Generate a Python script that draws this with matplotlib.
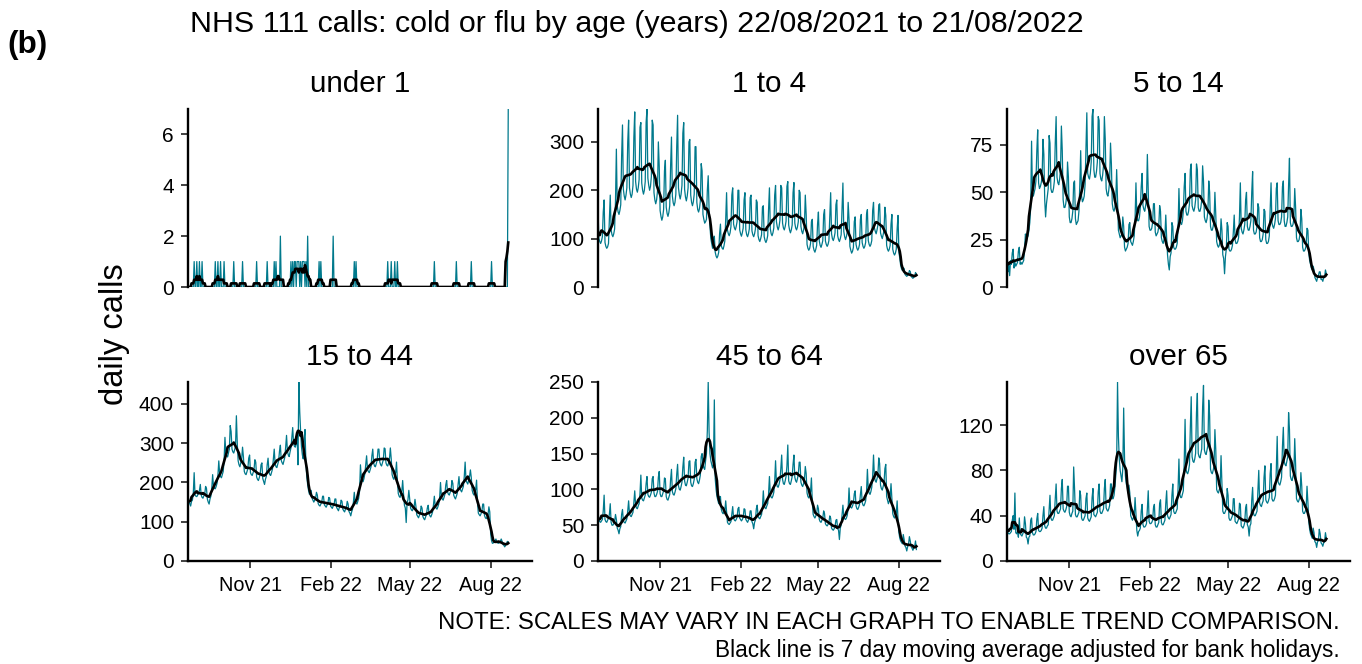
import numpy as np
import pandas as pd
import matplotlib
matplotlib.use('Agg')
import matplotlib.pyplot as plt
import matplotlib.dates as mdates

plt.rcParams['font.family'] = ['Liberation Sans', 'DejaVu Sans']

# daily calls, one row per week (Sun..Sat), first day 22/08/2021
start_date = '2021-08-22'
n_days = 365

# under 1: almost all zero, only the non-zero days are listed
under1_days = [7, 10, 13, 16, 31, 34, 37, 41, 52, 62, 78, 90, 98, 100, 105,
               117, 119, 121, 122, 124, 125, 126, 128, 130, 131, 132, 134, 136,
               149, 151, 165, 189, 191, 227, 231, 235, 238, 280, 305, 322, 345, 364]
under1_counts = [1, 1, 1, 1, 1, 1, 1, 1, 1, 1, 1, 1, 1, 1, 2,
                 1, 1, 1, 1, 1, 1, 1, 1, 1, 1, 1, 1, 2,
                 1, 1, 2, 1, 1, 1, 1, 1, 1, 1, 1, 1, 1, 7]

calls_1to4 = [
    [160, 100, 94, 90, 95, 104, 155], [180, 92, 84, 80, 83, 90, 140],
    [190, 118, 108, 104, 110, 120, 178], [285, 168, 155, 150, 158, 170, 270],
    [335, 202, 188, 180, 190, 205, 300], [345, 205, 192, 185, 192, 210, 310],
    [362, 218, 202, 196, 205, 222, 330], [340, 215, 200, 192, 200, 218, 340],
    [368, 225, 210, 200, 208, 228, 345], [335, 195, 180, 172, 180, 198, 300],
    [250, 158, 146, 138, 145, 160, 240], [262, 165, 152, 146, 154, 168, 250],
    [310, 188, 174, 168, 175, 192, 290], [355, 205, 190, 182, 192, 210, 318],
    [340, 202, 186, 178, 188, 205, 300], [305, 190, 175, 168, 176, 192, 290],
    [290, 175, 160, 155, 162, 178, 255], [240, 150, 140, 132, 135, 140, 200],
    [230, 160, 125, 100, 90, 80, 100], [105, 72, 64, 60, 64, 72, 110],
    [130, 85, 80, 78, 85, 95, 140], [195, 118, 110, 106, 112, 125, 190],
    [205, 130, 122, 118, 125, 135, 200], [200, 118, 110, 105, 112, 122, 180],
    [195, 118, 108, 104, 110, 120, 185], [190, 116, 108, 104, 110, 120, 180],
    [175, 106, 98, 94, 100, 108, 165], [168, 104, 96, 92, 97, 106, 160],
    [205, 120, 110, 106, 112, 122, 190], [210, 135, 124, 118, 125, 138, 210],
    [205, 132, 122, 118, 125, 136, 208], [218, 128, 118, 112, 118, 128, 195],
    [216, 132, 122, 118, 124, 135, 200], [195, 125, 115, 110, 118, 128, 190],
    [150, 88, 80, 76, 80, 90, 135], [140, 84, 76, 72, 78, 86, 130],
    [155, 95, 86, 82, 88, 96, 150], [160, 95, 88, 84, 88, 96, 148],
    [195, 110, 100, 96, 102, 112, 170], [180, 106, 98, 94, 100, 108, 165],
    [215, 115, 104, 98, 104, 115, 175], [140, 84, 76, 70, 74, 82, 135],
    [145, 88, 80, 76, 80, 88, 140], [150, 92, 84, 80, 84, 92, 150],
    [160, 96, 88, 84, 88, 96, 158], [175, 122, 115, 110, 118, 128, 170],
    [172, 112, 105, 100, 108, 118, 165], [148, 86, 78, 74, 78, 86, 130],
    [150, 78, 70, 66, 70, 78, 120], [148, 72, 60, 45, 38, 34, 40],
    [38, 26, 24, 22, 24, 26, 34], [32, 22, 20, 18, 20, 22, 30],
    [26],
]

calls_5to14 = [
    [21, 8, 12, 6, 14, 12, 18], [20, 10, 13, 11, 12, 13, 19],
    [21, 12, 13, 12, 13, 14, 20], [28, 25, 26, 27, 30, 34, 42],
    [77, 50, 48, 50, 52, 56, 72], [83, 55, 52, 53, 55, 58, 78],
    [70, 46, 37, 44, 48, 52, 80], [76, 52, 50, 50, 52, 56, 76],
    [90, 58, 55, 54, 57, 62, 85], [72, 46, 42, 42, 44, 48, 66],
    [58, 37, 34, 34, 36, 40, 55], [56, 36, 33, 34, 35, 40, 54],
    [72, 48, 45, 46, 48, 54, 72], [92, 60, 58, 57, 60, 66, 90],
    [94, 62, 58, 58, 61, 66, 90], [88, 60, 57, 56, 59, 64, 90],
    [78, 52, 49, 48, 51, 56, 76], [65, 44, 41, 40, 42, 46, 62],
    [45, 30, 28, 26, 27, 28, 37], [32, 21, 19, 20, 21, 23, 33],
    [34, 24, 23, 22, 24, 27, 36], [55, 37, 35, 35, 37, 42, 53],
    [60, 43, 41, 40, 43, 46, 70], [50, 32, 30, 30, 31, 34, 44],
    [44, 29, 27, 28, 29, 32, 43], [40, 26, 24, 23, 25, 27, 38],
    [26, 17, 12, 9, 16, 18, 34], [32, 21, 20, 20, 21, 23, 31],
    [52, 35, 34, 33, 35, 40, 53], [60, 40, 38, 38, 40, 44, 62],
    [65, 43, 41, 40, 42, 46, 65], [62, 42, 40, 40, 42, 46, 64],
    [56, 37, 35, 34, 36, 40, 56], [50, 32, 30, 30, 32, 35, 50],
    [38, 24, 22, 21, 22, 25, 36], [30, 17, 15, 7, 16, 20, 34],
    [32, 20, 19, 19, 20, 22, 29], [38, 25, 23, 23, 24, 26, 37],
    [55, 31, 29, 28, 30, 33, 46], [50, 32, 30, 30, 32, 35, 50],
    [61, 30, 28, 28, 29, 32, 44], [42, 26, 24, 24, 25, 28, 41],
    [40, 25, 23, 23, 24, 27, 41], [55, 34, 32, 31, 33, 36, 52],
    [55, 35, 33, 33, 34, 37, 53], [56, 35, 32, 32, 34, 37, 54],
    [68, 34, 32, 32, 33, 36, 52], [42, 26, 24, 24, 25, 28, 41],
    [36, 21, 19, 19, 20, 22, 31], [30, 18, 14, 12, 10, 9, 11],
    [9, 5, 4, 3, 5, 6, 8], [8, 4, 4, 3, 5, 5, 9],
    [7],
]

calls_15to44 = [
    [170, 150, 146, 140, 152, 155, 172], [225, 168, 165, 164, 168, 172, 180],
    [195, 168, 162, 160, 166, 170, 190], [185, 158, 150, 145, 158, 165, 185],
    [220, 190, 185, 184, 190, 198, 218], [255, 222, 215, 212, 220, 228, 255],
    [315, 275, 268, 265, 275, 285, 345], [330, 285, 278, 275, 283, 292, 370],
    [300, 255, 245, 240, 250, 260, 290], [265, 228, 222, 220, 228, 235, 262],
    [270, 225, 220, 218, 225, 232, 258], [252, 214, 208, 205, 212, 220, 245],
    [250, 210, 202, 195, 208, 215, 245], [262, 228, 220, 218, 226, 234, 258],
    [285, 248, 240, 238, 246, 255, 280], [295, 256, 250, 246, 255, 264, 290],
    [320, 280, 270, 266, 278, 288, 315], [340, 300, 292, 290, 300, 320, 245],
    [456, 380, 330, 290, 270, 260, 310], [335, 250, 215, 195, 180, 170, 175],
    [180, 160, 155, 150, 155, 160, 175], [168, 146, 142, 140, 145, 150, 165],
    [165, 143, 140, 137, 142, 147, 162], [160, 140, 137, 134, 140, 144, 158],
    [158, 136, 132, 128, 136, 140, 155], [152, 132, 128, 125, 132, 136, 152],
    [145, 126, 122, 115, 125, 132, 150], [175, 150, 148, 145, 152, 160, 178],
    [245, 212, 205, 202, 210, 222, 244], [268, 234, 228, 225, 232, 240, 268],
    [285, 250, 242, 240, 248, 256, 285], [285, 252, 245, 242, 250, 258, 288],
    [286, 250, 244, 242, 250, 260, 288], [260, 220, 212, 208, 218, 225, 252],
    [205, 172, 165, 162, 170, 178, 205], [170, 142, 135, 98, 148, 156, 180],
    [158, 135, 130, 128, 134, 138, 157], [140, 118, 114, 110, 116, 122, 140],
    [135, 113, 108, 105, 112, 118, 135], [142, 120, 115, 112, 118, 125, 143],
    [165, 140, 135, 132, 138, 145, 160], [200, 165, 158, 155, 162, 170, 194],
    [205, 176, 170, 168, 175, 182, 205], [198, 168, 162, 158, 165, 172, 195],
    [215, 185, 180, 176, 183, 190, 215], [252, 205, 200, 196, 205, 215, 232],
    [212, 180, 172, 168, 175, 182, 206], [150, 122, 118, 115, 120, 126, 145],
    [145, 116, 110, 108, 112, 118, 138], [125, 70, 52, 45, 46, 48, 52],
    [56, 48, 46, 45, 47, 50, 56], [50, 42, 40, 36, 40, 44, 50],
    [48],
]

calls_45to64 = [
    [70, 57, 55, 54, 56, 58, 70], [92, 58, 55, 54, 57, 60, 65],
    [80, 54, 50, 50, 52, 55, 65], [58, 46, 43, 38, 45, 48, 65],
    [72, 56, 54, 53, 56, 59, 70], [84, 66, 63, 62, 65, 68, 82],
    [98, 78, 74, 73, 77, 80, 94], [120, 88, 85, 84, 88, 92, 108],
    [118, 93, 90, 89, 92, 96, 115], [118, 95, 90, 90, 93, 97, 117],
    [125, 94, 90, 90, 94, 98, 116], [115, 90, 86, 85, 89, 93, 114],
    [128, 97, 93, 92, 96, 101, 121], [135, 105, 100, 99, 104, 110, 131],
    [145, 112, 106, 105, 110, 116, 139], [140, 110, 105, 104, 108, 114, 138],
    [142, 115, 110, 108, 113, 120, 146], [150, 135, 130, 128, 140, 150, 182],
    [250, 180, 150, 140, 135, 130, 135], [225, 115, 100, 90, 85, 80, 90],
    [90, 72, 68, 66, 68, 70, 84], [68, 54, 52, 51, 53, 55, 66],
    [76, 60, 57, 56, 58, 61, 73], [75, 60, 58, 56, 58, 61, 73],
    [72, 58, 56, 54, 57, 60, 70], [70, 55, 52, 45, 54, 57, 73],
    [78, 63, 60, 59, 62, 65, 75], [98, 78, 74, 73, 77, 80, 94],
    [118, 93, 89, 88, 91, 96, 111], [140, 109, 104, 103, 107, 113, 129],
    [148, 114, 108, 107, 112, 118, 133], [162, 112, 108, 107, 112, 118, 135],
    [148, 117, 112, 110, 115, 121, 138], [138, 110, 106, 104, 108, 114, 132],
    [122, 95, 90, 88, 92, 97, 116], [82, 65, 62, 60, 63, 66, 78],
    [73, 58, 55, 54, 57, 60, 70], [66, 52, 50, 49, 51, 54, 63],
    [60, 46, 44, 43, 45, 48, 57], [58, 45, 43, 30, 46, 50, 64],
    [78, 62, 59, 58, 60, 64, 74], [102, 78, 75, 74, 77, 81, 94],
    [98, 77, 73, 72, 75, 79, 93], [104, 82, 78, 77, 80, 84, 97],
    [128, 100, 95, 93, 97, 103, 119], [148, 118, 112, 110, 115, 121, 144],
    [136, 106, 101, 99, 104, 109, 129], [135, 90, 85, 80, 84, 90, 108],
    [88, 66, 62, 60, 63, 67, 84], [58, 40, 32, 28, 26, 24, 37],
    [30, 21, 19, 14, 20, 23, 34], [28, 20, 18, 15, 18, 20, 28],
    [16],
]

calls_over65 = [
    [36, 25, 24, 24, 25, 26, 36], [40, 28, 60, 25, 24, 26, 21],
    [38, 24, 23, 22, 24, 26, 39], [33, 21, 20, 15, 21, 22, 36],
    [38, 25, 23, 23, 24, 26, 37], [42, 27, 26, 26, 27, 29, 40],
    [48, 31, 29, 29, 31, 32, 45], [58, 38, 36, 36, 38, 40, 55],
    [68, 44, 42, 42, 44, 46, 64], [72, 46, 44, 43, 45, 48, 66],
    [66, 43, 40, 39, 42, 44, 83], [64, 41, 39, 39, 41, 43, 62],
    [58, 38, 36, 36, 38, 40, 55], [60, 38, 36, 35, 37, 39, 56],
    [64, 41, 40, 39, 41, 43, 61], [68, 44, 42, 42, 44, 46, 64],
    [72, 47, 45, 44, 46, 49, 68], [68, 55, 55, 58, 65, 75, 86],
    [158, 110, 90, 80, 75, 70, 82], [135, 90, 75, 68, 65, 60, 67],
    [60, 40, 38, 36, 38, 40, 56], [42, 27, 22, 26, 27, 29, 44],
    [50, 32, 30, 30, 31, 33, 46], [62, 35, 33, 33, 34, 36, 47],
    [50, 32, 30, 30, 32, 34, 51], [54, 34, 32, 32, 34, 36, 51],
    [62, 40, 38, 37, 39, 41, 58], [68, 44, 42, 42, 44, 46, 64],
    [90, 59, 56, 56, 59, 62, 87], [125, 81, 78, 77, 80, 85, 118],
    [145, 92, 88, 87, 90, 95, 131], [148, 95, 92, 91, 95, 99, 136],
    [155, 98, 95, 94, 98, 102, 142], [128, 81, 78, 77, 80, 84, 116],
    [98, 63, 61, 60, 63, 66, 93], [68, 44, 42, 42, 44, 46, 64],
    [58, 38, 36, 36, 38, 40, 55], [55, 35, 34, 33, 35, 37, 51],
    [50, 31, 30, 29, 31, 34, 47], [50, 32, 30, 22, 31, 33, 54],
    [65, 42, 40, 40, 42, 44, 63], [80, 51, 49, 48, 51, 53, 74],
    [84, 54, 52, 51, 53, 56, 77], [86, 55, 53, 53, 55, 58, 81],
    [110, 70, 68, 67, 70, 74, 101], [118, 88, 85, 84, 88, 92, 131],
    [116, 75, 72, 71, 75, 78, 108], [85, 55, 53, 52, 54, 57, 78],
    [66, 44, 42, 42, 44, 46, 66], [52, 35, 28, 24, 22, 20, 29],
    [25, 17, 16, 12, 17, 18, 28], [24, 16, 15, 13, 16, 17, 25],
    [20],
]

panel_titles = ['under 1', '1 to 4', '5 to 14', '15 to 44', '45 to 64', 'over 65']
y_ticks = [[0, 2, 4, 6], [0, 100, 200, 300], [0, 25, 50, 75],
           [0, 100, 200, 300, 400], [0, 50, 100, 150, 200, 250], [0, 40, 80, 120]]
x_tick_dates = ['2021-11-01', '2022-02-01', '2022-05-01', '2022-08-01']

teal = '#00798C'


def flat(rows):
    return np.array([v for r in rows for v in r], dtype=float)


under1 = np.zeros(n_days)
under1[under1_days] = under1_counts
series = [under1, flat(calls_1to4), flat(calls_5to14),
          flat(calls_15to44), flat(calls_45to64), flat(calls_over65)]

dates = pd.date_range(start_date, periods=n_days)
x_end = pd.Timestamp(start_date) + pd.Timedelta(days=391)

W, H = 1362, 664
fig = plt.figure(figsize=(W / 100, H / 100), dpi=100)

# panel boxes in pixels: left, top, right, bottom
cols = [(188, 532), (598, 940), (1007, 1350)]
rows_px = [(109, 287), (382, 561)]

for i, y in enumerate(series):
    r, c = divmod(i, 3)
    x0, x1 = cols[c]
    y0, y1 = rows_px[r]
    ax = fig.add_axes([x0 / W, 1 - y1 / H, (x1 - x0) / W, (y1 - y0) / H])
    ma = pd.Series(y).rolling(7, center=True, min_periods=1).mean()
    ax.plot(dates, y, color=teal, lw=0.9)
    ax.plot(dates, ma, color='black', lw=1.9)
    ax.set_xlim(pd.Timestamp(start_date), x_end)
    ax.set_ylim(0, y.max())
    ax.set_yticks(y_ticks[i])
    for s in ['top', 'right']:
        ax.spines[s].set_visible(False)
    ax.spines['left'].set_linewidth(1.7)
    ax.spines['bottom'].set_linewidth(1.7)
    ax.tick_params(axis='y', length=5, width=1.3, color='#333333', labelsize=15, pad=5)
    ax.set_xticks(pd.to_datetime(x_tick_dates))
    ax.xaxis.set_major_formatter(mdates.DateFormatter('%b %y'))
    if r == 0:
        ax.spines['bottom'].set_visible(False)
        ax.tick_params(axis='x', bottom=False, labelbottom=False)
    else:
        ax.tick_params(axis='x', length=5, width=1.3, color='#333333', labelsize=14.3, pad=6)
    fig.text((x0 + x1) / 2 / W, 1 - (84 if r == 0 else 357) / H, panel_titles[i],
             ha='center', va='center', fontsize=21.3)

fig.text(637 / W, 1 - 24 / H,
         'NHS 111 calls: cold or flu by age (years) 22/08/2021 to 21/08/2022',
         ha='center', va='center', fontsize=21.9)
fig.text(7 / W, 1 - 45 / H, '(b)', ha='left', va='center', fontsize=22.7, fontweight='bold')
fig.text(115 / W, 1 - 334 / H, 'daily calls', rotation=90, ha='center', va='center', fontsize=23.5)
fig.text(1340 / W, 1 - 623 / H,
         'NOTE: SCALES MAY VARY IN EACH GRAPH TO ENABLE TREND COMPARISON.',
         ha='right', va='center', fontsize=17.3)
fig.text(1340 / W, 1 - 650 / H,
         'Black line is 7 day moving average adjusted for bank holidays.',
         ha='right', va='center', fontsize=16.3)

fig.savefig('out.png', dpi=100)
